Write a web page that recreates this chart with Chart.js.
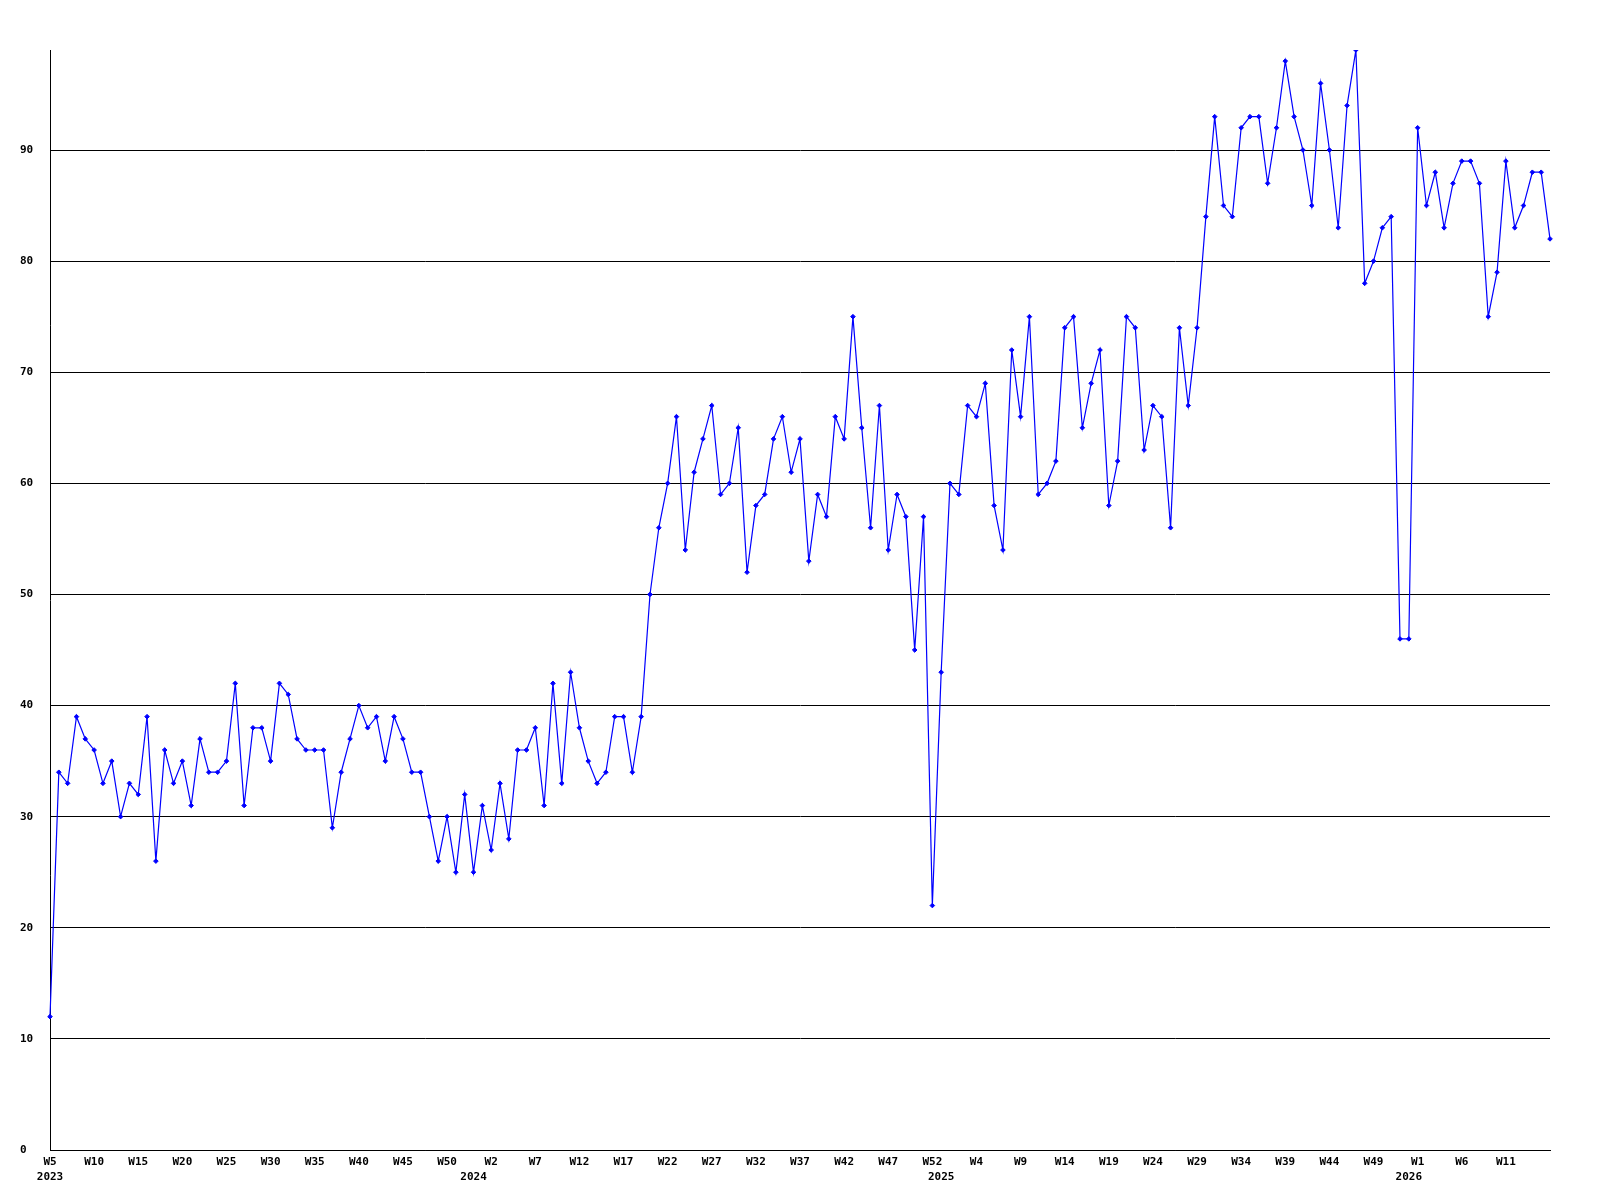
<!DOCTYPE html>
<html>
<head>
<meta charset="utf-8">
<script src="https://cdn.jsdelivr.net/npm/chart.js@4/dist/chart.umd.min.js"></script>
<style>
html,body{margin:0;padding:0;background:#ffffff;}
#wrap{width:1600px;height:1200px;}
</style>
</head>
<body>
<div id="wrap"><canvas id="c" width="1600" height="1200"></canvas></div>
<script>
// Weekly values, 2023 W5 .. 2026 W16
const values = [
  12,34,33,39,37,36,33,35,30,33,32,39,26,36,33,35,31,37,34,34,
  35,42,31,38,38,35,42,41,37,36,36,36,29,34,37,40,38,39,35,39,
  37,34,34,30,26,30,25,32,25,31,27,33,28,36,36,38,31,42,33,43,
  38,35,33,34,39,39,34,39,50,56,60,66,54,61,64,67,59,60,65,52,
  58,59,64,66,61,64,53,59,57,66,64,75,65,56,67,54,59,57,45,57,
  22,43,60,59,67,66,69,58,54,72,66,75,59,60,62,74,75,65,69,72,
  58,62,75,74,63,67,66,56,74,67,74,84,93,85,84,92,93,93,87,92,
  98,93,90,85,96,90,83,94,99,78,80,83,84,46,46,92,85,88,83,87,
  89,89,87,75,79,89,83,85,88,88,82
];
// Week numbering per year (category labels)
const yearNames = ['2023','2024','2025','2026'];
const yearFirstWeek = [5,0,0,0];
const yearLastWeek = [52,52,52,16];
const yTickValues = [0,10,20,30,40,50,60,70,80,90];
const labelEvery = 5;

const weekLabels = [];
const yearAtIndex = {};
yearNames.forEach(function(y,k){
  yearAtIndex[weekLabels.length] = y;
  for (let w = yearFirstWeek[k]; w <= yearLastWeek[k]; w++) weekLabels.push('W' + w);
});

const tickFont = {family: "'DejaVu Sans Mono', monospace", size: 11, weight: 'bold', lineHeight: 1.32};

new Chart(document.getElementById('c'), {
  type: 'line',
  data: {
    labels: weekLabels,
    datasets: [{
      data: values,
      borderColor: '#0000ff',
      backgroundColor: '#0000ff',
      borderWidth: 1.2,
      tension: 0,
      pointStyle: 'rectRot',
      pointRadius: 2.3,
      pointBorderWidth: 1,
      pointBorderColor: '#0000ff',
      pointBackgroundColor: '#0000ff',
      fill: false
    }]
  },
  options: {
    responsive: false,
    animation: false,
    devicePixelRatio: 1,
    layout: {padding: {left: 20, right: 50, top: 50, bottom: 0}},
    plugins: {legend: {display: false}, tooltip: {enabled: false}},
    scales: {
      x: {
        type: 'category',
        offset: false,
        grid: {display: false, drawTicks: false},
        border: {display: true, color: '#000000', width: 1},
        ticks: {
          autoSkip: false,
          maxRotation: 0,
          minRotation: 0,
          padding: 5,
          color: '#000000',
          font: tickFont,
          callback: function(value, index) {
            const isWeekTick = index % labelEvery === 0 && index < weekLabels.length - 1;
            const year = yearAtIndex[index];
            if (isWeekTick && year) return [weekLabels[index], year];
            if (isWeekTick) return weekLabels[index];
            if (year) return ['', year];
            return '';
          }
        },
        afterFit: function(s){ s.height = 50; }
      },
      y: {
        min: 0,
        max: Math.max.apply(null, values),
        afterBuildTicks: function(s){ s.ticks = yTickValues.map(function(v){ return {value: v}; }); },
        grid: {color: '#000000', lineWidth: 1, drawTicks: false},
        border: {display: true, color: '#000000', width: 1},
        ticks: {
          crossAlign: 'far',
          padding: 0,
          color: '#000000',
          font: tickFont
        },
        afterFit: function(s){ s.width = 30; }
      }
    }
  }
});
</script>
</body>
</html>
